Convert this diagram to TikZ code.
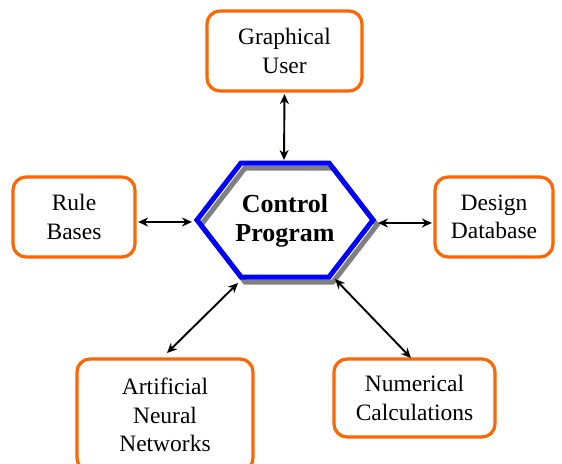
\documentclass[tikz,border=0pt]{standalone}
\usepackage{fontspec}
\setmainfont{Liberation Serif}
\usetikzlibrary{arrows.meta}
\definecolor{boxorange}{RGB}{255,102,0}
\definecolor{hexblue}{RGB}{0,0,255}
\definecolor{shadowgray}{RGB}{128,128,128}
\begin{document}
\begin{tikzpicture}[x=1pt,y=-1pt,
  box/.style={draw=boxorange, line width=3.2pt, rounded corners=13pt, fill=white,
    align=center, inner sep=0pt, font=\fontsize{23.5}{28.5}\selectfont},
  link/.style={line width=1.9pt, {Stealth[length=10pt,width=9pt]}-{Stealth[length=10pt,width=9pt]}},
  hexline/.style={line width=5pt, line join=miter}]

\useasboundingbox (0,0) rectangle (562,463);

% hexagon with shadow
\draw[shadowgray, hexline, shift={(4,5)}]
  (241,163) -- (329,163) -- (373,220) -- (329,277) -- (241,277) -- (197,220) -- cycle;
\draw[hexblue, hexline]
  (241,163) -- (329,163) -- (373,220) -- (329,277) -- (241,277) -- (197,220) -- cycle;
\node[align=center, font=\bfseries\fontsize{26}{29}\selectfont] (ctrl) at (285,221) {Control\\Program};

% connector ends at the hexagon
\coordinate (hexTop) at (284,160);
\coordinate (hexL) at (192,222);
\coordinate (hexR) at (378,223);
\coordinate (hexBL) at (238,283);
\coordinate (hexBR) at (335,279);

% boxes
\node[box, minimum width=155, minimum height=80] (gu) at (284.5,51) {Graphical\\User};
\node[box, minimum width=122, minimum height=80] (rb) at (74,217) {Rule\\Bases};
\node[box, minimum width=118, minimum height=80] (dd) at (494,217) {Design\\Database};
\node[box, minimum width=176, minimum height=112] (ann) at (165,415) {Artificial\\Neural\\Networks};
\node[box, minimum width=161, minimum height=78] (nc) at (414.5,398) {Numerical\\Calculations};

\coordinate (annTip) at (167,353);
\coordinate (ncTip) at (411,358);

% connectors
\draw[link, shorten <=1.5pt] (gu.south) -- (hexTop);
\draw[link, shorten <=1.5pt] (rb.east |- hexL) -- (hexL);
\draw[link, shorten <=1.5pt] (dd.west |- hexR) -- (hexR);
\draw[link] (hexBL) -- (annTip);
\draw[link] (hexBR) -- (ncTip);
\end{tikzpicture}
\end{document}
